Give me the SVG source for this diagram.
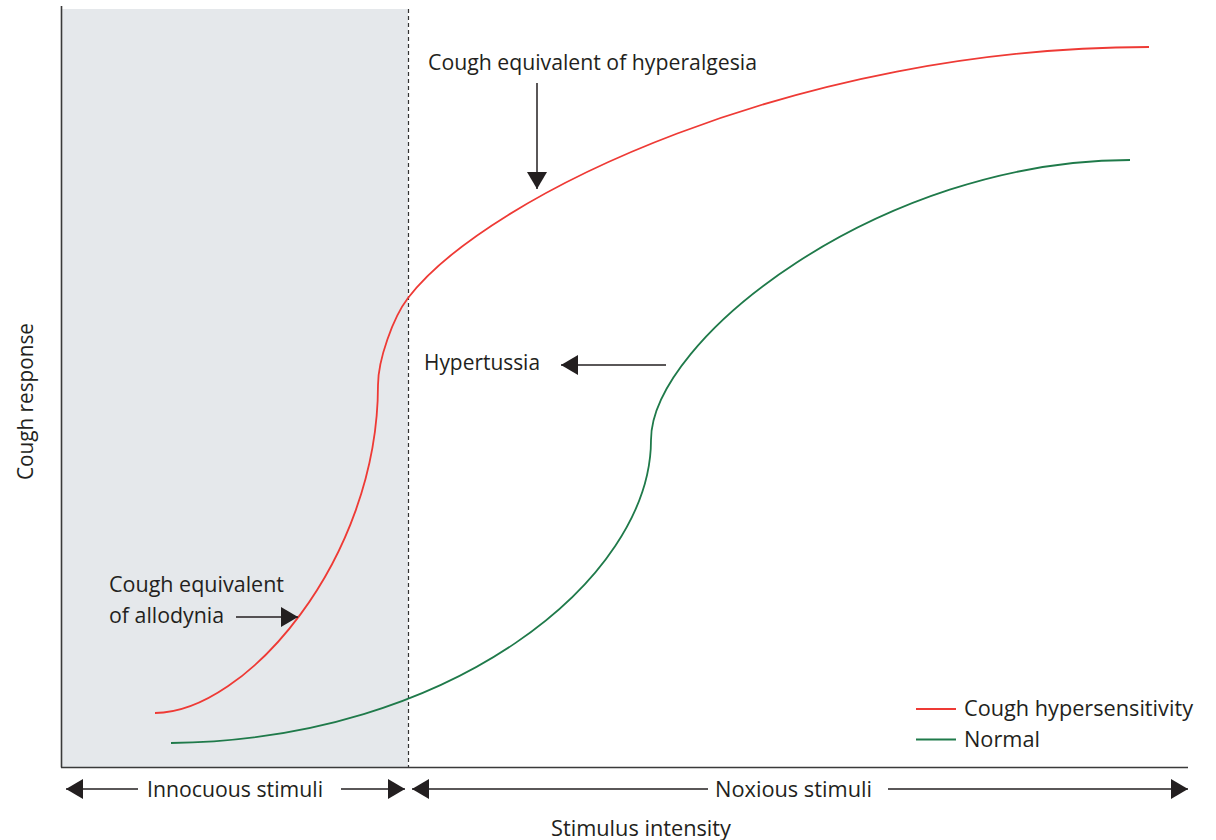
<svg xmlns="http://www.w3.org/2000/svg" width="1216" height="840" viewBox="0 0 1216 840">
  <style>
    .lbl { font-family: "Open Sans", "Noto Sans", "Liberation Sans", sans-serif; font-size: 21px; fill: #231f20; }
    .axis { stroke: #3a3a3a; stroke-width: 1.6; fill: none; }
    .conn { stroke: #231f20; stroke-width: 1.5; fill: none; }
    .hyper { stroke: #ee3a35; stroke-width: 1.8; fill: none; }
    .normal { stroke: #1f7a4a; stroke-width: 1.8; fill: none; }
  </style>
  <defs>
    <marker id="head" viewBox="0 0 17 20" markerWidth="17" markerHeight="20" refX="17" refY="10" orient="auto-start-reverse" markerUnits="userSpaceOnUse">
      <path d="M0,0 L17,10 L0,20 Z" fill="#231f20"/>
    </marker>
  </defs>

  <rect width="1216" height="840" fill="#ffffff"/>

  <!-- innocuous stimulus zone -->
  <g id="innocuous-zone">
    <rect x="62" y="9" width="346" height="758" fill="#e5e8eb"/>
    <line x1="408.5" y1="9" x2="408.5" y2="767" stroke="#333" stroke-width="1.2" stroke-dasharray="4 3"/>
  </g>

  <!-- axes -->
  <g id="axes">
    <line class="axis" x1="61.5" y1="6" x2="61.5" y2="767.5"/>
    <line class="axis" x1="61" y1="767.5" x2="1188" y2="767.5"/>
  </g>

  <!-- response curves -->
  <g id="curve-hypersensitivity">
    <path class="hyper" d="M155,713 C245,713 378,560 378,385 C378,360 393,317.5 408,298 C488,194 799,47 1149,47"/>
  </g>
  <g id="curve-normal">
    <path class="normal" d="M171,743 C450,740 651,580 651,440 C651,340 880,160 1130,160"/>
  </g>

  <!-- labels -->
  <g id="label-hyperalgesia">
    <text class="lbl" x="428" y="70" textLength="329" lengthAdjust="spacingAndGlyphs">Cough equivalent of hyperalgesia</text>
  </g>
  <g id="label-hypertussia">
    <text class="lbl" x="424" y="370" textLength="116" lengthAdjust="spacingAndGlyphs">Hypertussia</text>
  </g>
  <g id="label-allodynia">
    <text class="lbl" x="109" y="592" textLength="175" lengthAdjust="spacingAndGlyphs">Cough equivalent</text>
    <text class="lbl" x="109" y="623" textLength="115" lengthAdjust="spacingAndGlyphs">of allodynia</text>
  </g>
  <g id="label-innocuous">
    <text class="lbl" x="147" y="797" textLength="176" lengthAdjust="spacingAndGlyphs">Innocuous stimuli</text>
  </g>
  <g id="label-noxious">
    <text class="lbl" x="715" y="797" textLength="157" lengthAdjust="spacingAndGlyphs">Noxious stimuli</text>
  </g>
  <g id="label-x-axis">
    <text class="lbl" x="551" y="836" textLength="180" lengthAdjust="spacingAndGlyphs">Stimulus intensity</text>
  </g>
  <g id="label-y-axis">
    <text class="lbl" transform="translate(33,480) rotate(-90)" x="0" y="0" textLength="157" lengthAdjust="spacingAndGlyphs">Cough response</text>
  </g>

  <!-- legend -->
  <g id="legend">
    <line class="hyper" x1="916" y1="709" x2="956" y2="709"/>
    <text class="lbl" x="964" y="716" textLength="229" lengthAdjust="spacingAndGlyphs">Cough hypersensitivity</text>
    <line class="normal" x1="916" y1="739.5" x2="956" y2="739.5"/>
    <text class="lbl" x="964" y="747" textLength="76" lengthAdjust="spacingAndGlyphs">Normal</text>
  </g>

  <!-- connectors -->
  <g id="connectors">
    <line class="conn" x1="537" y1="83" x2="537" y2="189" marker-end="url(#head)"/>
    <line class="conn" x1="666" y1="365" x2="561" y2="365" marker-end="url(#head)"/>
    <line class="conn" x1="236" y1="617" x2="298" y2="617" marker-end="url(#head)"/>
    <line class="conn" x1="66" y1="789" x2="138" y2="789" marker-start="url(#head)"/>
    <line class="conn" x1="341" y1="789" x2="405" y2="789" marker-end="url(#head)"/>
    <line class="conn" x1="412" y1="789" x2="708" y2="789" marker-start="url(#head)"/>
    <line class="conn" x1="888" y1="789" x2="1188" y2="789" marker-end="url(#head)"/>
  </g>
</svg>
